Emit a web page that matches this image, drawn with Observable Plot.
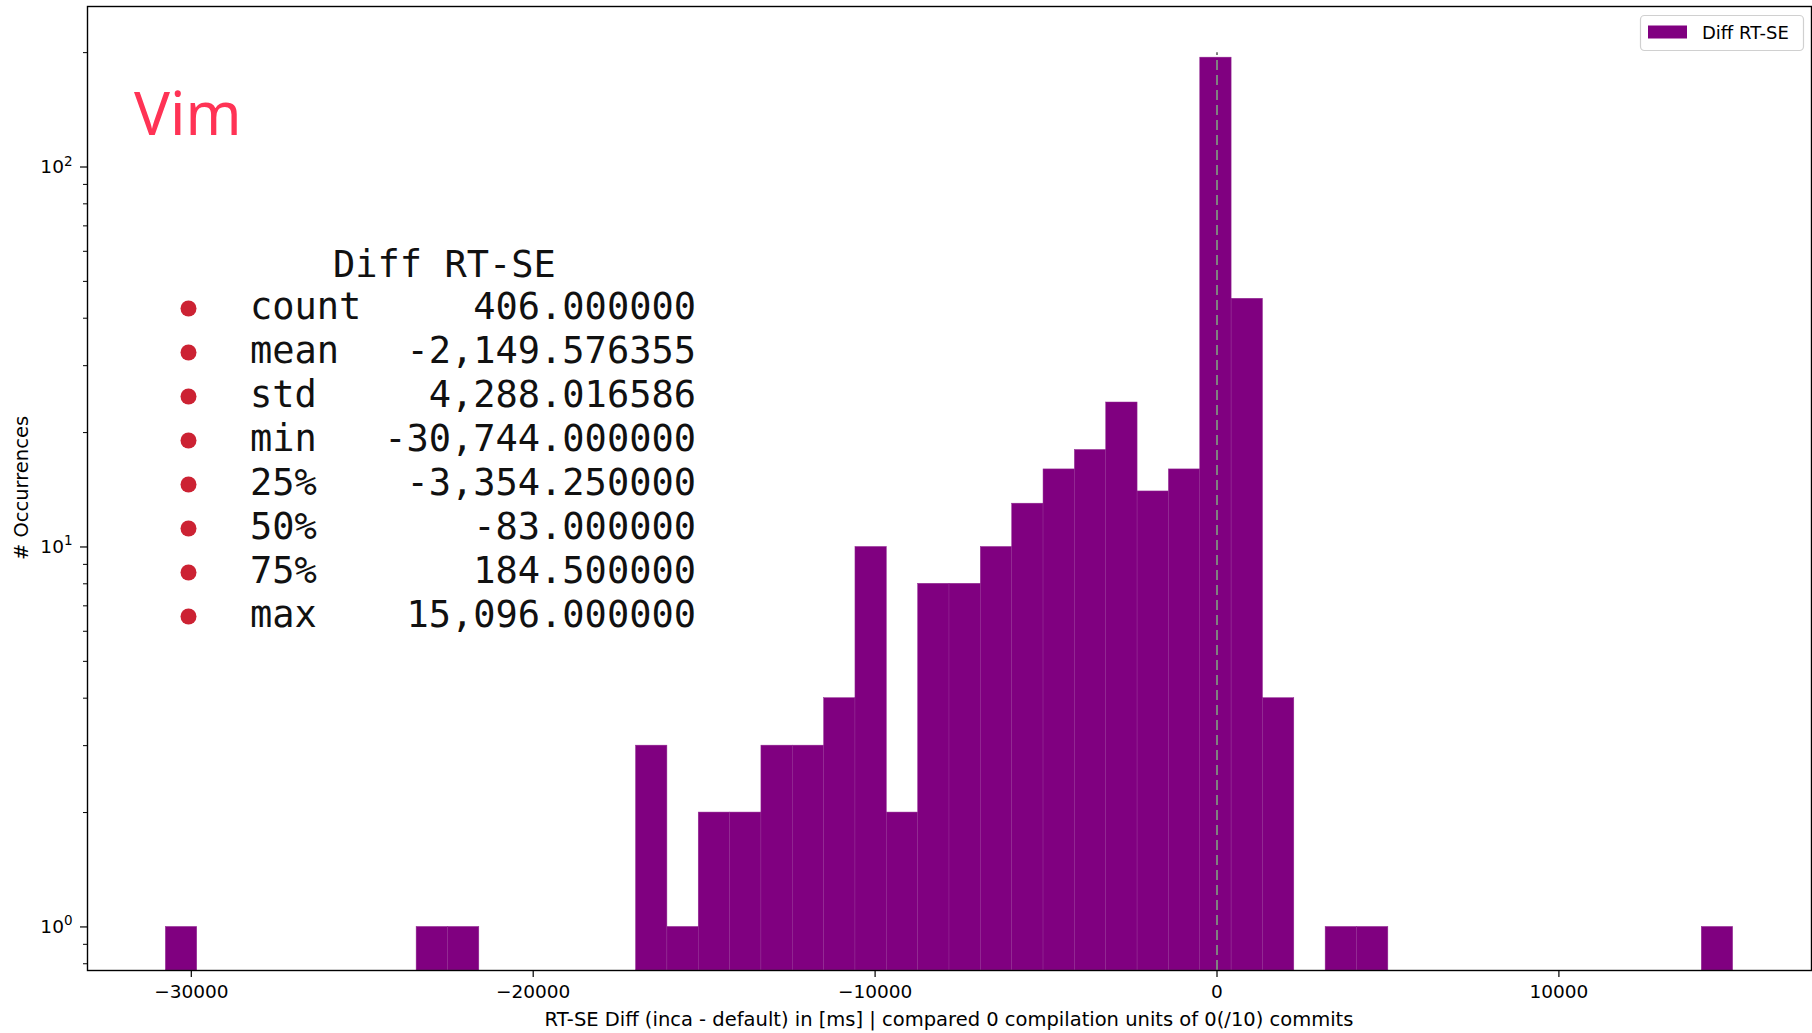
<!DOCTYPE html>
<html>
<head>
<meta charset="utf-8">
<script src="https://cdn.jsdelivr.net/npm/d3@7"></script>
<script src="https://cdn.jsdelivr.net/npm/@observablehq/plot@0.6"></script>
<style>
  html, body { margin: 0; padding: 0; background: #fff; }
  #chart { width: 1812px; height: 1033px; }
</style>
</head>
<body>
<div id="chart"></div>
<script>
// Histogram of RT-SE differences (50 equal-width bins between min and max)
const binCounts = [
  1, 0, 0, 0, 0, 0, 0, 0, 1, 1,
  0, 0, 0, 0, 0, 3, 1, 2, 2, 3,
  3, 4, 10, 2, 8, 8, 10, 13, 16, 18,
  24, 14, 16, 194, 45, 4, 0, 1, 1, 0,
  0, 0, 0, 0, 0, 0, 0, 0, 0, 1
];

// Summary statistics (pandas describe)
const statTitle = "Diff RT-SE";
const statLabels = ["count", "mean", "std", "min", "25%", "50%", "75%", "max"];
const statValues = [406, -2149.576355, 4288.016586, -30744, -3354.25, -83, 184.5, 15096];

const xTicks = [-30000, -20000, -10000, 0, 10000];
const yMajorTicks = [1, 10, 100];
const yMajorExponents = ["0", "1", "2"];
const yMinorTicks = [0.8, 0.9, 2, 3, 4, 5, 6, 7, 8, 9, 20, 30, 40, 50, 60, 70, 80, 90, 200];

const seriesName = "Diff RT-SE";
const chartTitle = "Vim";
const xLabel = "RT-SE Diff (inca - default) in [ms] | compared 0 compilation units of 0(/10) commits";
const yLabel = "# Occurrences";
const zeroLineTop = 200;

const barColor = "#800080";

// Bin edges from the data range
const dataMin = statValues[3];
const dataMax = statValues[7];
const nBins = binCounts.length;
const binWidth = (dataMax - dataMin) / nBins;
const span = dataMax - dataMin;
const xDomain = [dataMin - 0.05 * span, dataMax + 0.05 * span];
const yDomain = [0.768, 264.5];

const bins = binCounts
  .map((c, i) => ({x0: dataMin + i * binWidth, x1: dataMin + (i + 1) * binWidth, count: c, base: yDomain[0]}))
  .filter(d => d.count > 0);

const fmtTick = d => (d < 0 ? "\u2212" + Math.abs(d) : String(d));
// placeholder text for decade labels; replaced by base + superscript below
const fmtDecade = d => "10^" + yMajorExponents[yMajorTicks.indexOf(d)];

const W = 1812, H = 1033;
const mL = 87, mR = 1, mT = 6, mB = 63;

const plot = Plot.plot({
  width: W,
  height: H,
  marginLeft: mL,
  marginRight: mR,
  marginTop: mT,
  marginBottom: mB,
  style: {fontFamily: "DejaVu Sans", fontSize: "18.5px", color: "#000", background: "#fff"},
  x: {domain: xDomain},
  y: {type: "log", domain: yDomain},
  marks: [
    Plot.rect(bins, {x1: "x0", x2: "x1", y1: "base", y2: "count", fill: barColor, stroke: "#922a92", strokeWidth: 0.5}),
    Plot.ruleX([0], {y1: yDomain[0], y2: zeroLineTop, stroke: "#808080", strokeWidth: 2, strokeDasharray: "10,5"}),
    Plot.frame({stroke: "#000", strokeWidth: 1.4}),
    Plot.axisX({ticks: xTicks, tickFormat: fmtTick, tickSize: 7, tickPadding: 7, label: null, stroke: "#000", strokeWidth: 1.2}),
    Plot.axisY({ticks: yMajorTicks, tickFormat: fmtDecade, tickSize: 7, tickPadding: 8, label: null, stroke: "#000", strokeWidth: 1.2}),
    Plot.axisY({ticks: yMinorTicks, tickFormat: () => "", tickSize: 4, label: null, stroke: "#000", strokeWidth: 1})
  ]
});

document.getElementById("chart").appendChild(plot);

const svg = d3.select(plot);

// decade labels as "10" with a raised exponent
svg.selectAll("text").each(function () {
  const t = d3.select(this);
  const s = t.text();
  const m = /^10\^(\d+)$/.exec(s);
  if (!m) return;
  t.text(null);
  t.append("tspan").text("10");
  t.append("tspan").attr("font-size", 13.5).attr("dy", "-0.55em").text(m[1]);
});

// Annotations drawn on top of the plot
const g = svg.append("g").attr("text-anchor", "start");

// axis titles
g.append("text")
  .attr("x", (mL + W - mR) / 2).attr("y", 1026)
  .attr("text-anchor", "middle")
  .attr("font-family", "DejaVu Sans").attr("font-size", 19.5).attr("fill", "#000")
  .text(xLabel);
g.append("text")
  .attr("transform", `translate(28,${(mT + H - mB) / 2}) rotate(-90)`)
  .attr("text-anchor", "middle")
  .attr("font-family", "DejaVu Sans").attr("font-size", 19.5).attr("fill", "#000")
  .text(yLabel);

// chart title
g.append("text")
  .attr("x", 134).attr("y", 135)
  .attr("text-anchor", "start")
  .attr("font-family", "Noto Sans").attr("font-size", 60).attr("fill", "#ff3355")
  .text(chartTitle);

// statistics block
const mono = "DejaVu Sans Mono";
const fmt = d3.formatLocale({decimal: ".", thousands: ",", grouping: [3], currency: ["", ""], minus: "-"}).format(",.6f");
g.append("text")
  .attr("x", 333).attr("y", 277)
  .attr("text-anchor", "start")
  .attr("font-family", mono).attr("font-size", 37).attr("fill", "#111")
  .text(statTitle);
statLabels.forEach((lab, i) => {
  const yb = 318.5 + 44 * i;
  g.append("circle").attr("cx", 188.5).attr("cy", yb - 10).attr("r", 8).attr("fill", "#cc2233");
  g.append("text")
    .attr("x", 250).attr("y", yb)
    .attr("text-anchor", "start")
    .attr("font-family", mono).attr("font-size", 37).attr("fill", "#111")
    .text(lab);
  g.append("text")
    .attr("x", 696).attr("y", yb)
    .attr("text-anchor", "end")
    .attr("font-family", mono).attr("font-size", 37).attr("fill", "#111")
    .text(fmt(statValues[i]));
});

// legend
const lg = g.append("g");
lg.append("rect")
  .attr("x", 1640.5).attr("y", 15.5).attr("width", 163).attr("height", 35).attr("rx", 4)
  .attr("fill", "#fff").attr("fill-opacity", 0.8).attr("stroke", "#d0d0d0").attr("stroke-width", 1.2);
lg.append("rect")
  .attr("x", 1648).attr("y", 25.5).attr("width", 39).attr("height", 13)
  .attr("fill", barColor);
lg.append("text")
  .attr("x", 1702).attr("y", 38.5)
  .attr("text-anchor", "start")
  .attr("font-family", "DejaVu Sans").attr("font-size", 18).attr("fill", "#000")
  .text(seriesName);
</script>
</body>
</html>
